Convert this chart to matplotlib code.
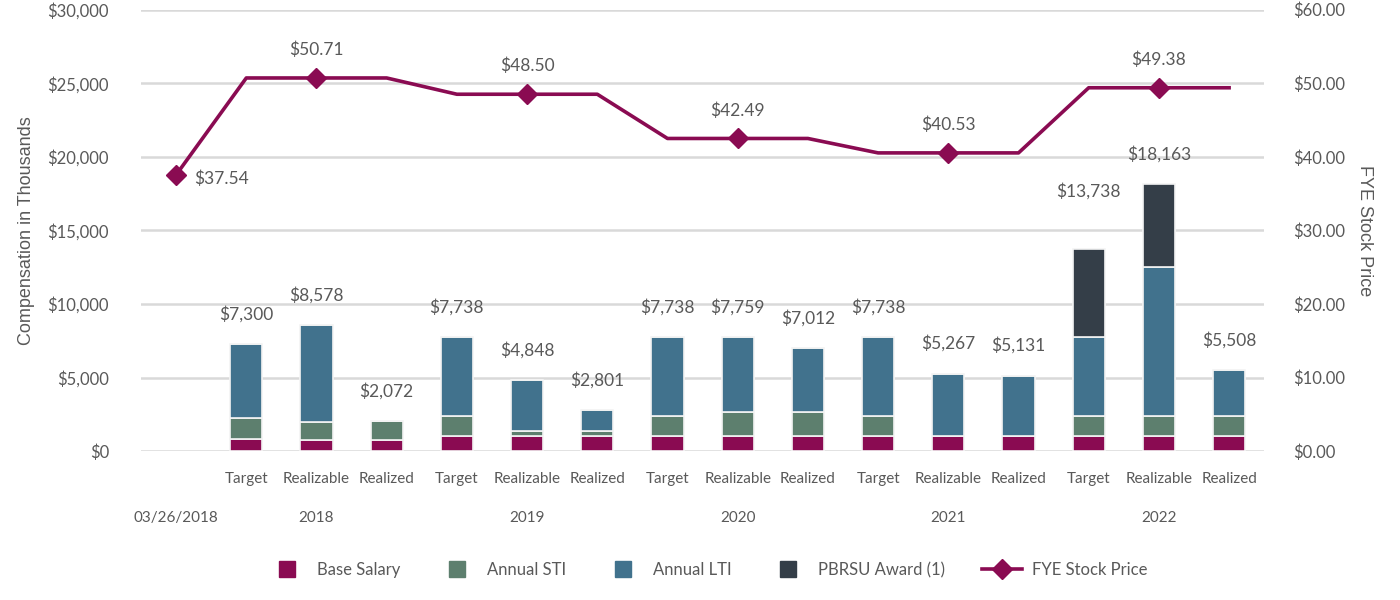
import matplotlib
matplotlib.use("Agg")
import matplotlib.pyplot as plt
from matplotlib.lines import Line2D
import numpy as np

plt.rcParams.update({"font.family": ["Lato", "DejaVu Sans"], "font.size": 11.5})

# --- data (thousands of $) ---
cat_labels = ["", "Target", "Realizable", "Realized",
              "Target", "Realizable", "Realized",
              "Target", "Realizable", "Realized",
              "Target", "Realizable", "Realized",
              "Target", "Realizable", "Realized"]
group_labels = ["03/26/2018", "2018", "2019", "2020", "2021", "2022"]
group_pos = [0, 2, 5, 8, 11, 14]

base_salary = [0, 850, 750, 750, 1000, 1000, 1000, 1000, 1000, 1000, 1000, 1000, 1000, 1000, 1000, 1000]
annual_sti = [0, 1400, 1230, 1322, 1400, 400, 400, 1400, 1650, 1650, 1400, 0, 0, 1400, 1400, 1400]
annual_lti = [0, 5050, 6598, 0, 5338, 3448, 1401, 5338, 5109, 4362, 5338, 4267, 4131, 5338, 10100, 3108]
pbrsu = [0, 0, 0, 0, 0, 0, 0, 0, 0, 0, 0, 0, 0, 6000, 5663, 0]

stock_price = [37.54, 50.71, 50.71, 50.71, 48.50, 48.50, 48.50, 42.49, 42.49, 42.49,
               40.53, 40.53, 40.53, 49.38, 49.38, 49.38]
price_marks = [0, 2, 5, 8, 11, 14]

C_BASE = "#8a0b52"
C_STI = "#5d7f6e"
C_LTI = "#41728d"
C_PB = "#343e48"
TXT = "#595959"
GRID = "#d9d9d9"

x = np.arange(len(cat_labels))
base = np.array(base_salary)
sti = np.array(annual_sti)
lti = np.array(annual_lti)
pb = np.array(pbrsu)
total = base + sti + lti + pb

fig = plt.figure(figsize=(14, 6), dpi=100)
ax = fig.add_axes([0.1007, 0.248, 0.8023, 0.736])
ax2 = ax.twinx()

w = 0.46
kw = dict(width=w, edgecolor="#f4f4f4", linewidth=1.2, zorder=3)
has = total > 0
ax.bar(x[has], base[has], color=C_BASE, **kw)
ax.bar(x[has], sti[has], bottom=base[has], color=C_STI, **kw)
ax.bar(x[has], lti[has], bottom=(base + sti)[has], color=C_LTI, **kw)
ax.bar(x[has], pb[has], bottom=(base + sti + lti)[has], color=C_PB, **kw)

for xi, t in zip(x, total):
    if t == 0:
        continue
    off = 58 if xi == 13 else 30
    ax.annotate(f"${t:,.0f}", (xi, t), xytext=(0, off), textcoords="offset pixels",
                ha="center", va="center", color=TXT, fontsize=12.5)

ax.set_xlim(-0.5, 15.5)
ax.set_ylim(0, 30000)
ax.set_yticks(np.arange(0, 30001, 5000))
ax.set_yticklabels([f"${v:,.0f}" for v in np.arange(0, 30001, 5000)])
ax.grid(axis="y", color=GRID, lw=1.8, zorder=0)
ax.set_axisbelow(True)
ax.set_xticks(x)
ax.set_xticklabels(cat_labels)
ax.tick_params(axis="x", length=0, pad=15, colors=TXT, labelsize=11)
ax.tick_params(axis="y", length=0, pad=23, colors=TXT, labelsize=12)
for xi, g in zip(group_pos, group_labels):
    ax.text(xi, -0.152, g, transform=ax.get_xaxis_transform(), ha="center", va="center",
            color=TXT, fontsize=11)
ax.set_ylabel("Compensation in Thousands", color=TXT, fontsize=13,
              family=["Liberation Sans", "DejaVu Sans"], labelpad=9)

ax2.plot(x, stock_price, color=C_BASE, lw=2.6, marker="D", markersize=10,
         markevery=price_marks, zorder=5)
for i in price_marks:
    if i == 0:
        off = (45, -4)
    else:
        off = (0, 28)
    ax2.annotate(f"${stock_price[i]:.2f}", (x[i], stock_price[i]), xytext=off,
                 textcoords="offset pixels", ha="center", va="center", color=TXT, fontsize=12.5)
ax2.set_ylim(0, 60)
ax2.set_yticks(np.arange(0, 61, 10))
ax2.set_yticklabels([f"${v:.2f}" for v in np.arange(0, 61, 10)])
ax2.tick_params(axis="y", length=0, pad=21, colors=TXT, labelsize=12)
ax2.set_ylabel("FYE Stock Price", color=TXT, fontsize=13, rotation=-90,
               family=["Liberation Sans", "DejaVu Sans"], labelpad=20)

for a in (ax, ax2):
    for s in a.spines.values():
        s.set_visible(False)

handles = [
    Line2D([], [], marker="s", ls="none", color=C_BASE, markersize=11),
    Line2D([], [], marker="s", ls="none", color=C_STI, markersize=11),
    Line2D([], [], marker="s", ls="none", color=C_LTI, markersize=11),
    Line2D([], [], marker="s", ls="none", color=C_PB, markersize=11),
    Line2D([], [], marker="D", color=C_BASE, lw=2.6, markersize=10),
]
names = ["Base Salary", "Annual STI", "Annual LTI", "PBRSU Award (1)", "FYE Stock Price"]
leg = fig.legend(handles, names, loc="center", bbox_to_anchor=(0.505, 0.05), ncol=5,
                 frameon=False, fontsize=12, handlelength=2.4, columnspacing=2.2,
                 handletextpad=0.6)
for t in leg.get_texts():
    t.set_color(TXT)

fig.savefig("out.png", dpi=100)
